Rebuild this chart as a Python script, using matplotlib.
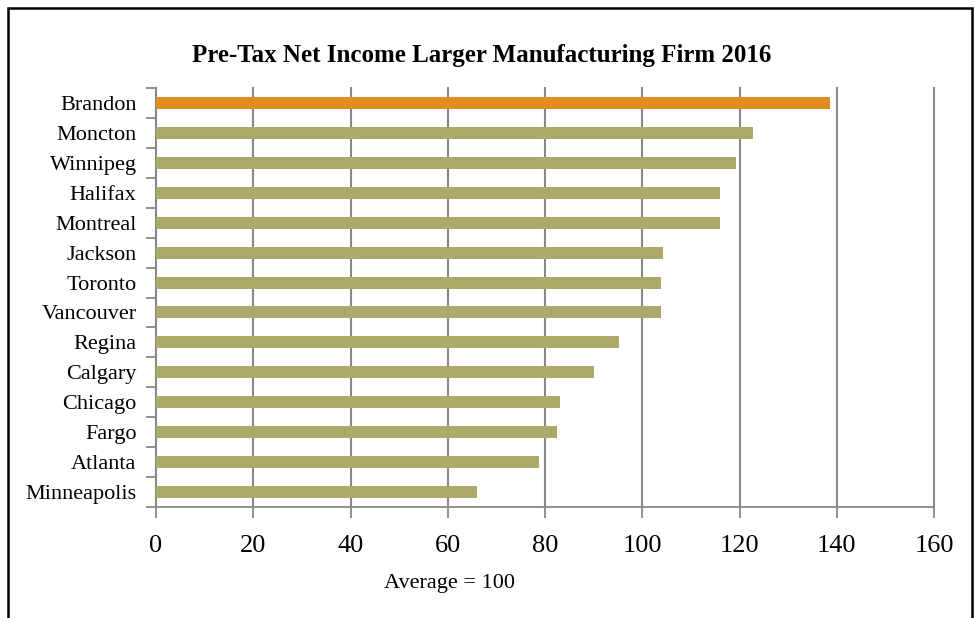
import matplotlib
matplotlib.use('Agg')
import matplotlib.pyplot as plt
from matplotlib.patches import Rectangle

cities = ['Brandon', 'Moncton', 'Winnipeg', 'Halifax', 'Montreal', 'Jackson', 'Toronto',
          'Vancouver', 'Regina', 'Calgary', 'Chicago', 'Fargo', 'Atlanta', 'Minneapolis']
income = [138.6, 122.7, 119.2, 116.0, 116.0, 104.2, 103.9,
          103.9, 95.2, 90.1, 83.1, 82.4, 78.8, 66.0]
xticks = [0, 20, 40, 60, 80, 100, 120, 140, 160]
highlight = 'Brandon'

plt.rcParams['font.family'] = ['Liberation Serif', 'DejaVu Serif']

fig = plt.figure(figsize=(9.75, 6.18), dpi=100)
ax = fig.add_axes([0.16, 0.1796, 0.798, 0.678])

colors = ['#E28D20' if c == highlight else '#ADA96B' for c in cities]
ypos = list(range(len(cities)))
ax.barh(ypos, income, height=0.4, color=colors, zorder=3)
ax.set_ylim(len(cities) - 0.5, -0.5)
ax.set_xlim(0, 160)

ax.set_yticks(ypos)
ax.set_yticklabels(cities, fontsize=16)
ax.set_yticks([i - 0.5 for i in range(len(cities) + 1)], minor=True)
ax.tick_params(axis='y', which='major', length=0, pad=14)
ax.tick_params(axis='y', which='minor', length=7, color='#888888', width=1.3)

ax.set_xticks(xticks)
ax.set_xticklabels([str(t) for t in xticks], fontsize=19)
ax.tick_params(axis='x', length=8, color='#888888', width=1.3, pad=12)

ax.grid(axis='x', color='#888888', linewidth=1.5, zorder=0)
for gl in ax.xaxis.get_gridlines():
    gl.set_clip_on(False)  # keep the 160 line full width
for s in ['top', 'right']:
    ax.spines[s].set_visible(False)
for s in ['left', 'bottom']:
    ax.spines[s].set_color('#888888')
    ax.spines[s].set_linewidth(1.3)

fig.text(449 / 975, 1 - 588 / 618, 'Average = 100', ha='center', va='baseline', fontsize=16)
fig.text(482 / 975, 1 - 62 / 618, 'Pre-Tax Net Income Larger Manufacturing Firm 2016',
         ha='center', va='baseline', fontsize=18, fontweight='bold')

# chart border (open at the bottom, as in the source image)
fig.patches.append(Rectangle((8 / 975, -0.05), (972 - 8) / 975, 1.05 - 8 / 618,
                             transform=fig.transFigure, fill=False,
                             edgecolor='black', linewidth=1.8, clip_on=False))

fig.savefig('out.png', dpi=100)
